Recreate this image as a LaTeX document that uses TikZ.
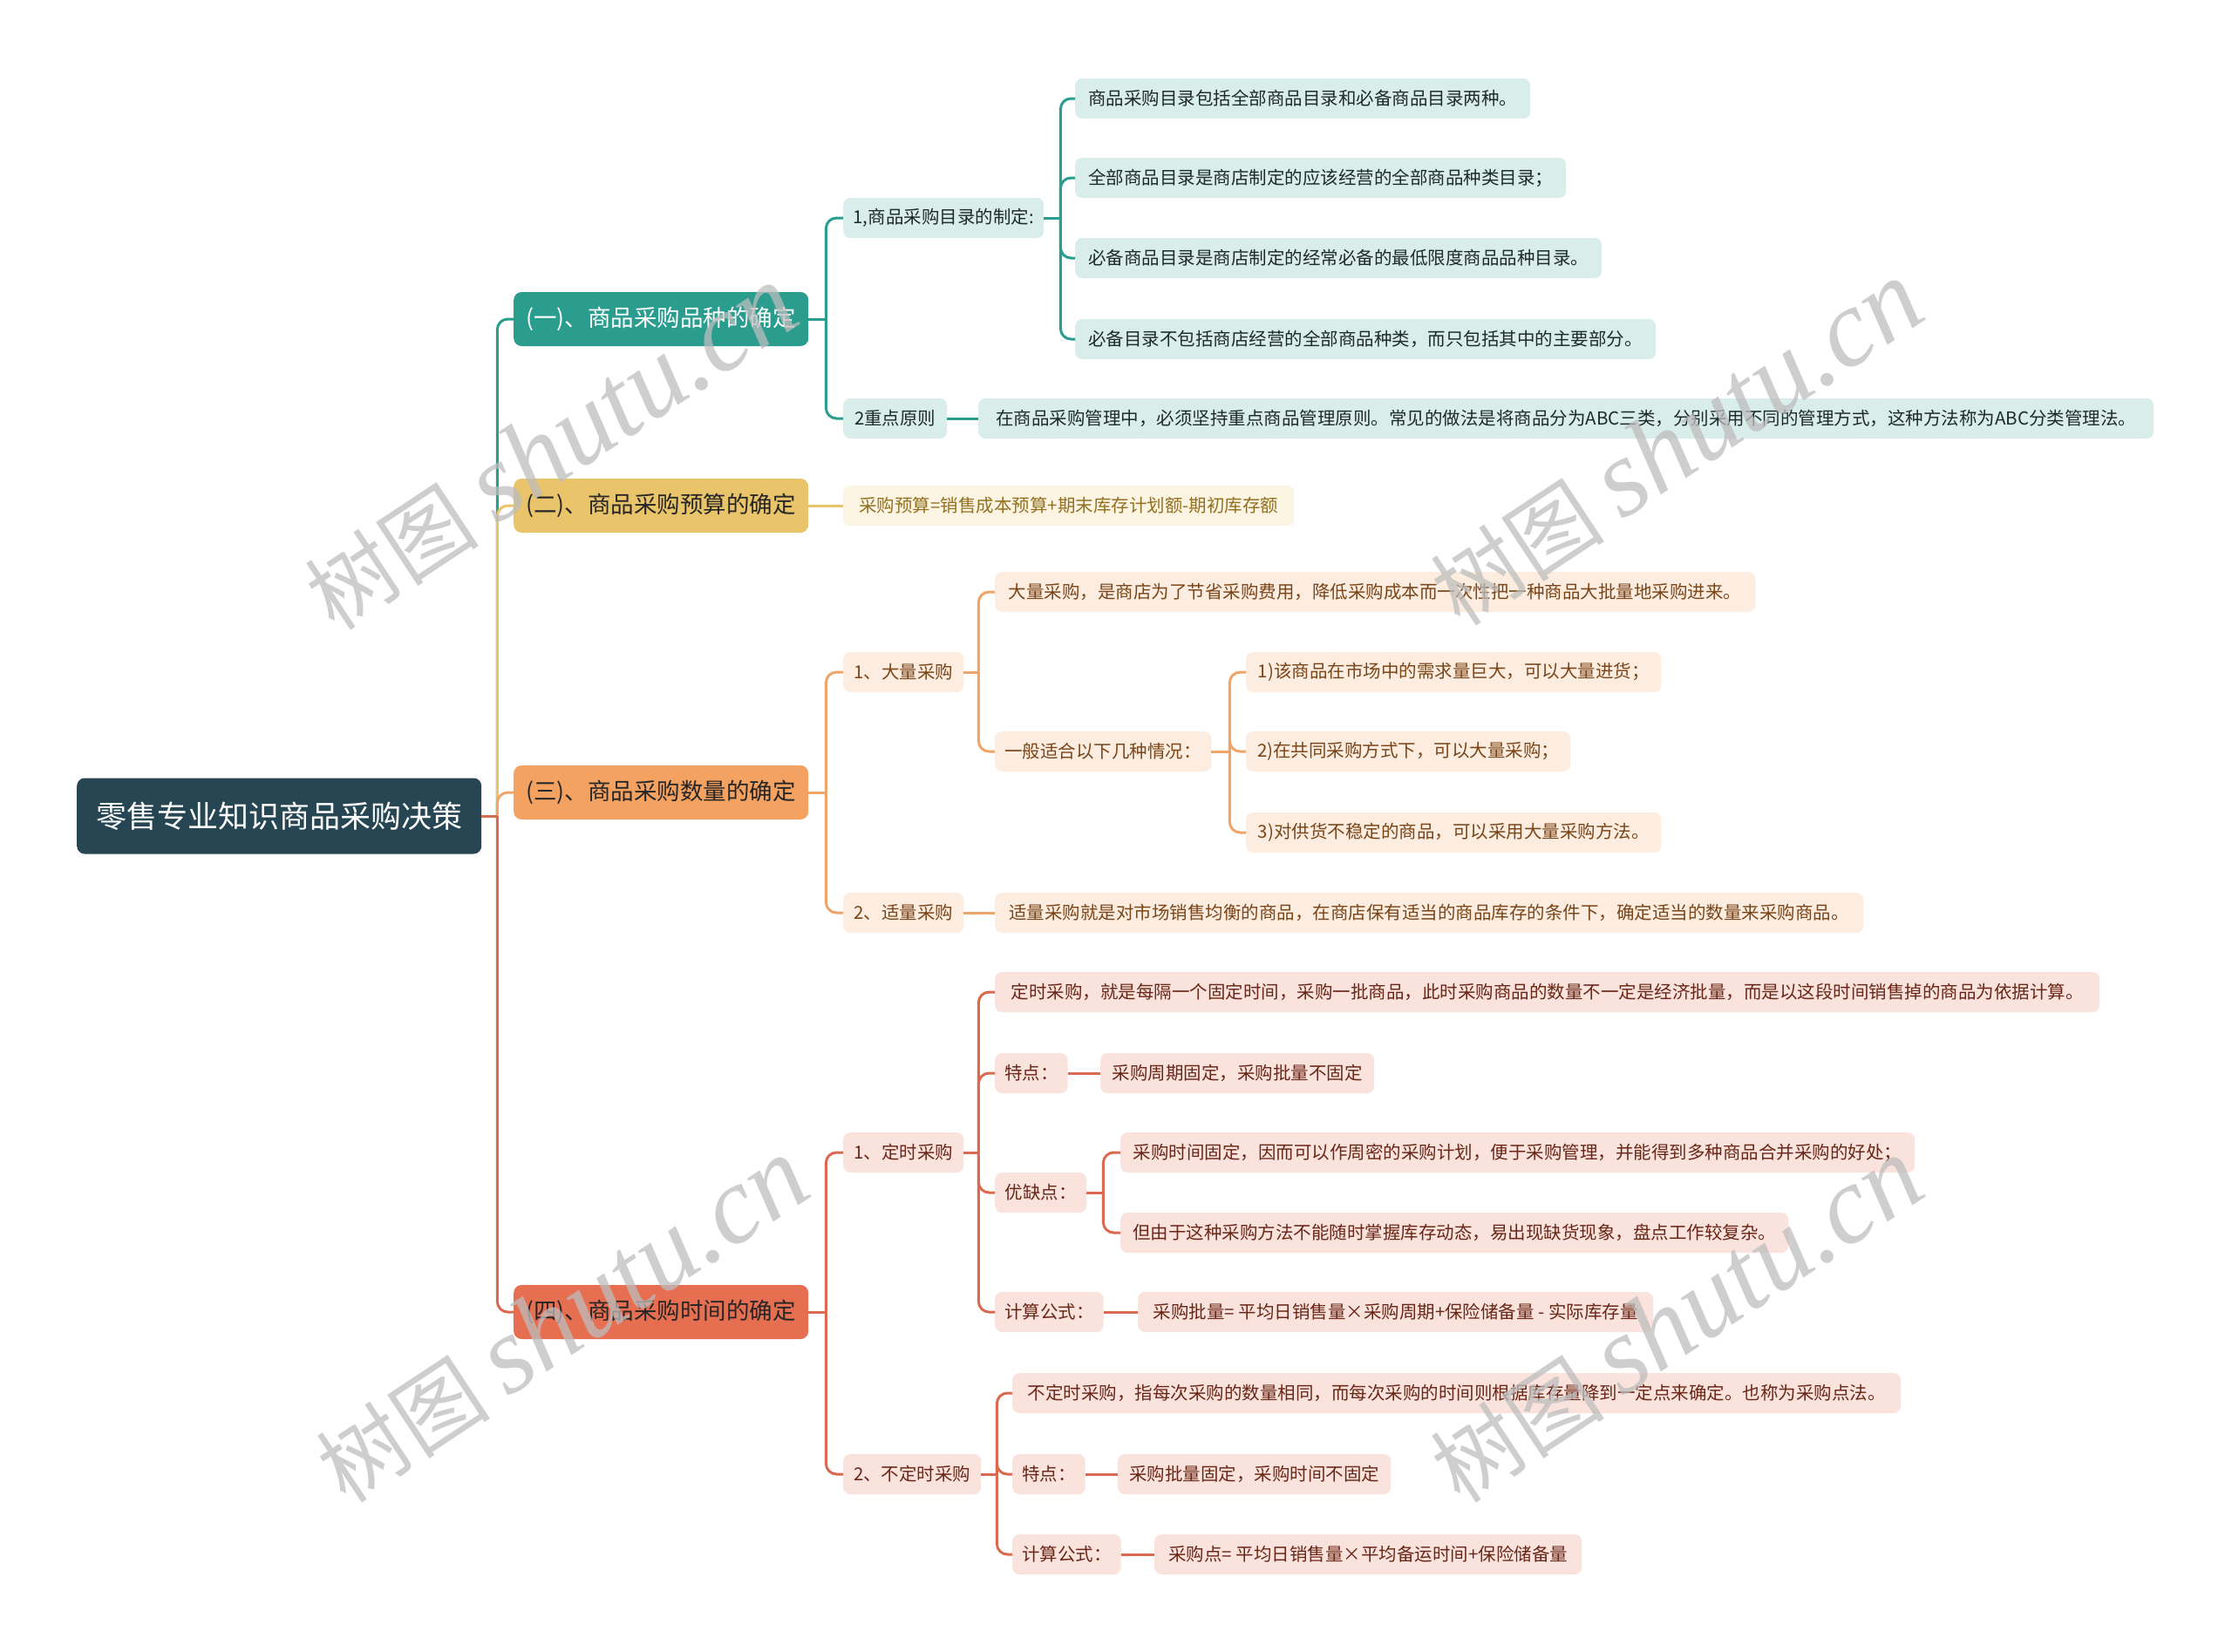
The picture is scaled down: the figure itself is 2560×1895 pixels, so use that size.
\documentclass[tikz,border=0pt]{standalone}
\usepackage{fontspec}
\setmainfont{Noto Sans CJK SC}
\newfontfamily\wmcjk{Noto Sans CJK SC}
\newfontfamily\wmserif{Liberation Serif}
\usetikzlibrary{calc}
\definecolor{rootC}{HTML}{264653}
\definecolor{tealC}{HTML}{2A9D8F}
\definecolor{tealL}{HTML}{D9EDEA}
\definecolor{tealT}{HTML}{1E2B2B}
\definecolor{yelC}{HTML}{E9C46A}
\definecolor{yelL}{HTML}{FDF5E3}
\definecolor{yelT}{HTML}{93701F}
\definecolor{oraC}{HTML}{F4A261}
\definecolor{oraLine}{HTML}{EDA56A}
\definecolor{oraL}{HTML}{FDEDE0}
\definecolor{oraT}{HTML}{7A4518}
\definecolor{redC}{HTML}{E76F51}
\definecolor{redLine}{HTML}{D96A50}
\definecolor{redL}{HTML}{FAE3DC}
\definecolor{redT}{HTML}{6A2617}
\definecolor{wmC}{HTML}{BDBDBD}
\begin{document}
\begin{tikzpicture}[x=1pt,y=-1pt,
  base/.style={rounded corners=8pt, minimum height=46pt, inner xsep=11pt, inner ysep=0pt,
    font=\fontsize{20.5}{24}\selectfont, anchor=west},
  tleaf/.style={base, fill=tealL, text=tealT},
  yleaf/.style={base, fill=yelL, text=yelT},
  oleaf/.style={base, fill=oraL, text=oraT},
  rleaf/.style={base, fill=redL, text=redT},
  mainbox/.style={rounded corners=9pt, minimum height=62pt, minimum width=338pt, inner xsep=10pt,
    font=\fontsize{26.5}{30}\selectfont, anchor=west},
  tline/.style={draw=tealC, line width=3pt},
  yline/.style={draw=yelC, line width=3pt},
  oline/.style={draw=oraLine, line width=3pt},
  rline/.style={draw=redLine, line width=3pt},
  wm/.style={text=wmC, opacity=0.75, rotate=33.5, inner sep=0pt}
]
\useasboundingbox (0,0) rectangle (2560,1895);

% root
\node[fill=rootC, text=white, rounded corners=9pt, minimum width=464pt, minimum height=87pt,
  font=\fontsize{35}{40}\selectfont, anchor=west] (root) at (88,936) {零售专业知识商品采购决策};

% level 1
\node[mainbox, fill=tealC, text=white] (A) at (589,366) {(一)、商品采购品种的确定};
\node[mainbox, fill=yelC, text=black!85] (B) at (589,580) {(二)、商品采购预算的确定};
\node[mainbox, fill=oraC, text=black!85] (C) at (589,909) {(三)、商品采购数量的确定};
\node[mainbox, fill=redC, text=black!85] (D) at (589,1505) {(四)、商品采购时间的确定};

% branch A
\node[tleaf, minimum width=230pt] (A1) at (967,250) {1,商品采购目录的制定:};
\node[tleaf, minimum width=119pt] (A2) at (967,480) {2重点原则};
\node[tleaf, minimum width=522pt] (A11) at (1233,113) {商品采购目录包括全部商品目录和必备商品目录两种。};
\node[tleaf, minimum width=563pt] (A12) at (1233,204) {全部商品目录是商店制定的应该经营的全部商品种类目录；};
\node[tleaf, minimum width=604pt] (A13) at (1233,296) {必备商品目录是商店制定的经常必备的最低限度商品品种目录。};
\node[tleaf, minimum width=666pt] (A14) at (1233,389) {必备目录不包括商店经营的全部商品种类，而只包括其中的主要部分。};
\node[tleaf, minimum width=1348pt] (A21) at (1122,480) {在商品采购管理中，必须坚持重点商品管理原则。常见的做法是将商品分为ABC三类，分别采用不同的管理方式，这种方法称为ABC分类管理法。};

% branch B
\node[yleaf, minimum width=517pt] (B1) at (967,580) {采购预算=销售成本预算+期末库存计划额-期初库存额};

% branch C
\node[oleaf, minimum width=138pt] (C1) at (967,771) {1、大量采购};
\node[oleaf, minimum width=872pt] (C11) at (1141,679) {大量采购，是商店为了节省采购费用，降低采购成本而一次性把一种商品大批量地采购进来。};
\node[oleaf, minimum width=248pt] (C12) at (1141,862) {一般适合以下几种情况：};
\node[oleaf, minimum width=476pt] (C121) at (1429,771) {1)该商品在市场中的需求量巨大，可以大量进货；};
\node[oleaf, minimum width=372pt] (C122) at (1429,862) {2)在共同采购方式下，可以大量采购；};
\node[oleaf, minimum width=476pt] (C123) at (1429,955) {3)对供货不稳定的商品，可以采用大量采购方法。};
\node[oleaf, minimum width=138pt] (C2) at (967,1047) {2、适量采购};
\node[oleaf, minimum width=996pt] (C21) at (1141,1047) {适量采购就是对市场销售均衡的商品，在商店保有适当的商品库存的条件下，确定适当的数量来采购商品。};

% branch D
\node[rleaf, minimum width=138pt] (D1) at (967,1322) {1、定时采购};
\node[rleaf, minimum width=1267pt] (D11) at (1141,1138) {定时采购，就是每隔一个固定时间，采购一批商品，此时采购商品的数量不一定是经济批量，而是以这段时间销售掉的商品为依据计算。};
\node[rleaf, minimum width=79pt] (D12) at (1141,1231) {特点：};
\node[rleaf, minimum width=314pt] (D121) at (1262,1231) {采购周期固定，采购批量不固定};
\node[rleaf, minimum width=105pt] (D13) at (1141,1368) {优缺点：};
\node[rleaf, minimum width=911pt] (D131) at (1285,1322) {采购时间固定，因而可以作周密的采购计划，便于采购管理，并能得到多种商品合并采购的好处；};
\node[rleaf, minimum width=766pt] (D132) at (1285,1414) {但由于这种采购方法不能随时掌握库存动态，易出现缺货现象，盘点工作较复杂。};
\node[rleaf, minimum width=118pt] (D14) at (1141,1505) {计算公式：};
\node[rleaf, minimum width=591pt] (D141) at (1305,1505) {采购批量= 平均日销售量×采购周期+保险储备量 - 实际库存量};
\node[rleaf, minimum width=158pt] (D2) at (967,1691) {2、不定时采购};
\node[rleaf, minimum width=1019pt] (D21) at (1161,1598) {不定时采购，指每次采购的数量相同，而每次采购的时间则根据库存量降到一定点来确定。也称为采购点法。};
\node[rleaf, minimum width=82pt] (D22) at (1161,1691) {特点：};
\node[rleaf, minimum width=313pt] (D221) at (1282,1691) {采购批量固定，采购时间不固定};
\node[rleaf, minimum width=121pt] (D23) at (1161,1783) {计算公式：};
\node[rleaf, minimum width=490pt] (D231) at (1324,1783) {采购点= 平均日销售量×平均备运时间+保险储备量};

% connectors: root
\coordinate (rt) at ($(root.east)+(18,0)$);
\draw[tline] (root.east) -- (rt);
\draw[tline, rounded corners=12pt] (rt) |- (A.west);
\draw[yline, rounded corners=12pt] (rt) |- (B.west);
\draw[oline, rounded corners=12pt] (rt) |- (C.west);
\draw[rline] (root.east) -- (rt);
\draw[rline, rounded corners=12pt] (rt) |- (D.west);

% A
\coordinate (at) at ($(A.east)+(20,0)$);
\draw[tline] (A.east) -- (at);
\draw[tline, rounded corners=12pt] (at) |- (A1.west);
\draw[tline, rounded corners=12pt] (at) |- (A2.west);
\coordinate (a1t) at ($(A1.east)+(19,0)$);
\draw[tline] (A1.east) -- (a1t);
\foreach \n in {A11,A12,A13,A14}{\draw[tline, rounded corners=12pt] (a1t) |- (\n.west);}
\draw[tline] (A2.east) -- (A21.west);

% B
\draw[yline] (B.east) -- (B1.west);

% C
\coordinate (ct) at ($(C.east)+(20,0)$);
\draw[oline] (C.east) -- (ct);
\draw[oline, rounded corners=12pt] (ct) |- (C1.west);
\draw[oline, rounded corners=12pt] (ct) |- (C2.west);
\coordinate (c1t) at ($(C1.east)+(17,0)$);
\draw[oline] (C1.east) -- (c1t);
\draw[oline, rounded corners=12pt] (c1t) |- (C11.west);
\draw[oline, rounded corners=12pt] (c1t) |- (C12.west);
\coordinate (c12t) at ($(C12.east)+(21,0)$);
\draw[oline] (C12.east) -- (c12t);
\foreach \n in {C121,C122,C123}{\draw[oline, rounded corners=12pt] (c12t) |- (\n.west);}
\draw[oline] (C2.east) -- (C21.west);

% D
\coordinate (dt) at ($(D.east)+(20,0)$);
\draw[rline] (D.east) -- (dt);
\draw[rline, rounded corners=12pt] (dt) |- (D1.west);
\draw[rline, rounded corners=12pt] (dt) |- (D2.west);
\coordinate (d1t) at ($(D1.east)+(17,0)$);
\draw[rline] (D1.east) -- (d1t);
\foreach \n in {D11,D12,D13,D14}{\draw[rline, rounded corners=12pt] (d1t) |- (\n.west);}
\draw[rline] (D12.east) -- (D121.west);
\coordinate (d13t) at ($(D13.east)+(19,0)$);
\draw[rline] (D13.east) -- (d13t);
\draw[rline, rounded corners=12pt] (d13t) |- (D131.west);
\draw[rline, rounded corners=12pt] (d13t) |- (D132.west);
\draw[rline] (D14.east) -- (D141.west);
\coordinate (d2t) at ($(D2.east)+(18,0)$);
\draw[rline] (D2.east) -- (d2t);
\foreach \n in {D21,D22,D23}{\draw[rline, rounded corners=12pt] (d2t) |- (\n.west);}
\draw[rline] (D22.east) -- (D221.west);
\draw[rline] (D23.east) -- (D231.west);

% watermarks
\foreach \p/\q in {w1/{(632,514)}, w2/{(1923,509)}, w3/{(645,1515)}, w4/{(1923,1515)}}{
  \node[wm] (\p) at \q {{\wmcjk\fontsize{100}{110}\selectfont 树图}\hspace{22pt}{\wmserif\itshape\fontsize{126}{130}\selectfont shutu.cn}};
}
\end{tikzpicture}
\end{document}
